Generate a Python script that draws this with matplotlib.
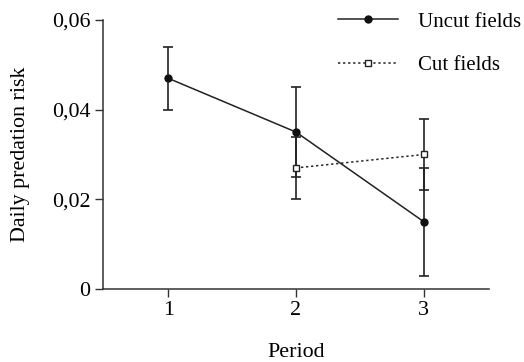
import numpy as np
import matplotlib.pyplot as plt

plt.rcParams['font.family'] = ['Liberation Serif', 'DejaVu Serif']

periods = [1, 2, 3]
period_labels = ['1', '2', '3']

uncut_risk = [0.047, 0.035, 0.015]
uncut_err = [0.007, 0.010, 0.012]

cut_periods = [2, 3]
cut_risk = [0.027, 0.030]
cut_err = [0.007, 0.008]

yticks = [0, 0.02, 0.04, 0.06]
ytick_labels = ['0', '0,02', '0,04', '0,06']

fs = 15.8

fig = plt.figure(figsize=(5.24, 3.62), dpi=100)
ax = fig.add_axes([0.1966, 0.2017, 0.9332 - 0.1966, 0.9448 - 0.2017])

# uncut fields
ax.errorbar(periods, uncut_risk, yerr=uncut_err, fmt='none', ecolor='#222222',
            elinewidth=1.2, capsize=3.5, capthick=1.2, zorder=2)
ax.plot(periods, uncut_risk, '-', color='#222222', lw=1.1, marker='o',
        markersize=5, markerfacecolor='#111111', markeredgecolor='#111111',
        label='Uncut fields', zorder=3)

# cut fields
ax.errorbar(cut_periods, cut_risk, yerr=cut_err, fmt='none', ecolor='#222222',
            elinewidth=1.2, capsize=3.5, capthick=1.2, zorder=2)
ax.plot(cut_periods, cut_risk, color='#222222', lw=1.1, ls=(0, (1.5, 1.8)),
        marker='s', markersize=5, markerfacecolor='white',
        markeredgecolor='#222222', markeredgewidth=1.0, label='Cut fields',
        zorder=3)

ax.set_xlim(0.49, 3.51)
ax.set_ylim(0, 0.06)
ax.set_xticks(periods)
ax.set_xticklabels(period_labels)
ax.set_yticks(yticks)
ax.set_yticklabels(ytick_labels)

for s in ['top', 'right']:
    ax.spines[s].set_visible(False)
for s in ['left', 'bottom']:
    ax.spines[s].set_linewidth(1.1)
    ax.spines[s].set_color('#333333')

ax.tick_params(direction='out', length=6, width=1.0, color='#333333',
               labelsize=fs, pad=3)

ax.set_xlabel('Period', fontsize=fs, labelpad=16)
ax.set_ylabel('Daily predation risk', fontsize=fs, labelpad=16)

fig.legend(loc='upper left', bbox_to_anchor=(338 / 524, 0.967), frameon=False,
           fontsize=15, borderpad=0, borderaxespad=0,
           handlelength=2.88, handletextpad=0.95, labelspacing=1.15)

fig.savefig('out.png', dpi=100)
